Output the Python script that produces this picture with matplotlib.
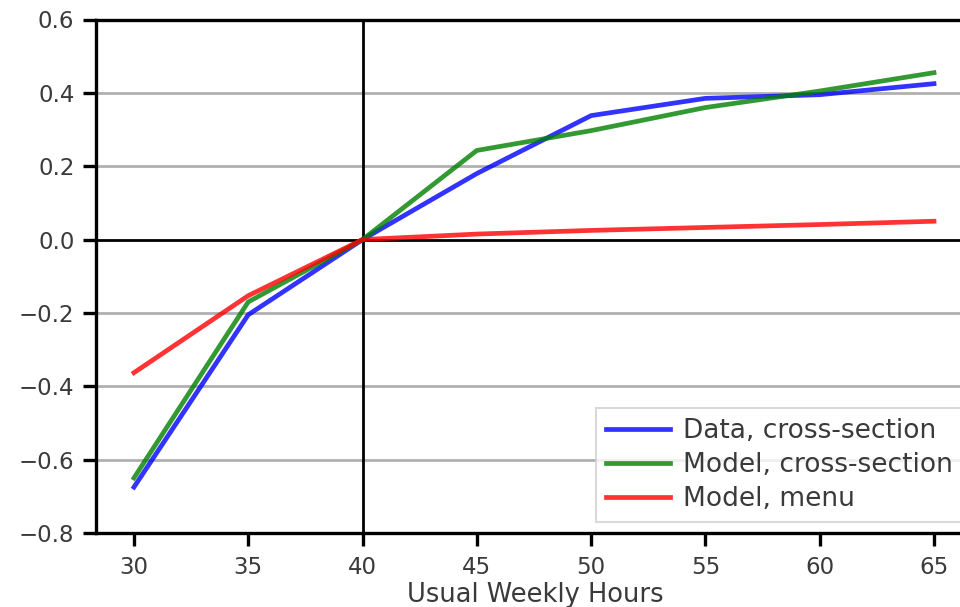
import matplotlib
matplotlib.use("Agg")
import matplotlib.pyplot as plt

hours = [30, 35, 40, 45, 50, 55, 60, 65]
data_cross = [-0.675, -0.205, 0.0, 0.18, 0.338, 0.385, 0.395, 0.425]
model_cross = [-0.65, -0.17, 0.0, 0.243, 0.297, 0.36, 0.405, 0.455]
model_menu = [-0.363, -0.153, 0.0, 0.015, 0.025, 0.033, 0.041, 0.05]
yticks = [-0.8, -0.6, -0.4, -0.2, 0.0, 0.2, 0.4, 0.6]
xticks = [30, 35, 40, 45, 50, 55, 60, 65]

W, H = 960, 607
fig = plt.figure(figsize=(W / 100, H / 100), dpi=100)
left, right, top, bottom = 96, 974, 19.5, 533
ax = fig.add_axes([left / W, (H - bottom) / H, (right - left) / W, (bottom - top) / H])

txt = '#3a3a3a'
for y in yticks:
    if y != 0.0:
        ax.axhline(y, color='#b0b0b0', lw=2.0, zorder=1)
ax.axhline(0, color='black', lw=2.0, zorder=1.5)
ax.axvline(40, color='black', lw=2.0, zorder=1.5)

ax.plot(hours, data_cross, color='blue', alpha=0.8, lw=3.4, label='Data, cross-section', zorder=3)
ax.plot(hours, model_cross, color='green', alpha=0.8, lw=3.4, label='Model, cross-section', zorder=3)
ax.plot(hours, model_menu, color='red', alpha=0.8, lw=3.4, label='Model, menu', zorder=3)

ax.set_xlim(28.34, 66.75)
ax.set_ylim(-0.8, 0.6)
ax.set_xticks(xticks)
ax.set_yticks(yticks)
ax.set_yticklabels([f"{v:.1f}".replace('-', '\u2212') for v in yticks])
for s in ax.spines.values():
    s.set_linewidth(2.4)
ax.tick_params(axis='both', labelsize=16.5, colors='black', labelcolor=txt,
               length=9.5, width=2.4, direction='out')
ax.tick_params(axis='y', pad=6)
ax.tick_params(axis='x', pad=7)
ax.set_xlabel('Usual Weekly Hours', fontsize=18.5, color=txt, labelpad=2)

leg = ax.legend(loc='lower right', fontsize=19, frameon=True, fancybox=False,
                handlelength=2.4, handletextpad=0.5, borderaxespad=0.4,
                labelspacing=0.3)
leg.get_frame().set_edgecolor('#d0d0d0')
leg.get_frame().set_linewidth(1.5)
for t in leg.get_texts():
    t.set_color(txt)

fig.savefig('out.png', dpi=100)
